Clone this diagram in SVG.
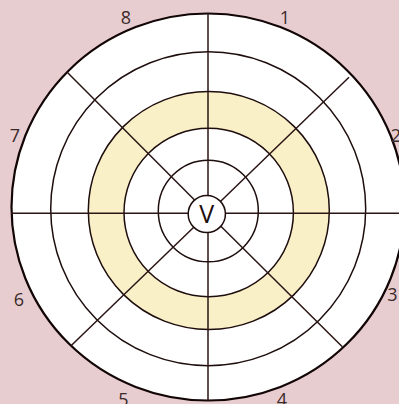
<svg xmlns="http://www.w3.org/2000/svg" width="399" height="404" viewBox="0 0 399 404">
<style>
.ring{fill:none;stroke:#1e0d0d;stroke-width:1.5}
.spoke{stroke:#2a1414;stroke-width:1.5}
.lbl{font-family:"Open Sans","Liberation Sans",sans-serif;font-size:18px;fill:#3a2a2a;text-anchor:middle}
</style>
<rect x="0" y="0" width="399" height="404" fill="#e8cdd0"/>
<g id="disk">
<ellipse cx="208" cy="207" rx="196.5" ry="193.5" fill="#ffffff" stroke="#120505" stroke-width="2.2"/>
<ellipse cx="208.8" cy="210.5" rx="120.5" ry="119" fill="#faf0c8"/>
<ellipse cx="208.7" cy="212.5" rx="84.7" ry="84.2" fill="#ffffff"/>
</g>
<g id="rings">
<ellipse class="ring" cx="208.2" cy="208.7" rx="157.5" ry="157"/>
<ellipse class="ring" cx="208.8" cy="210.5" rx="120.5" ry="119" stroke-width="2"/>
<ellipse class="ring" cx="208.7" cy="212.5" rx="84.7" ry="84.2"/>
<ellipse class="ring" cx="208.3" cy="211" rx="50" ry="50.8"/>
</g>
<g id="connectors">
<line class="spoke" x1="208" y1="13" x2="208" y2="401"/>
<line class="spoke" x1="11" y1="213.3" x2="399" y2="213.3"/>
<line class="spoke" x1="66.7" y1="71.7" x2="208" y2="213.5"/>
<line class="spoke" x1="208" y1="213.5" x2="342.3" y2="346.7"/>
<line class="spoke" x1="349" y1="77.3" x2="208" y2="213.5"/>
<line class="spoke" x1="208" y1="213.5" x2="71" y2="345.7"/>
</g>
<g id="center">
<circle cx="206.8" cy="214" r="18.6" fill="#ffffff" stroke="#1e0d0d" stroke-width="1.5"/>
<text x="206.8" y="223" font-family="'Open Sans','Liberation Sans',sans-serif" font-size="25" fill="#1e0d0d" text-anchor="middle">V</text>
</g>
<g id="labels">
<text class="lbl" x="285" y="23.5">1</text>
<text class="lbl" x="396" y="141.5">2</text>
<text class="lbl" x="392.5" y="301">3</text>
<text class="lbl" x="282" y="406">4</text>
<text class="lbl" x="123.5" y="406">5</text>
<text class="lbl" x="19" y="305.5">6</text>
<text class="lbl" x="15" y="141.5">7</text>
<text class="lbl" x="126" y="24">8</text>
</g>
</svg>
